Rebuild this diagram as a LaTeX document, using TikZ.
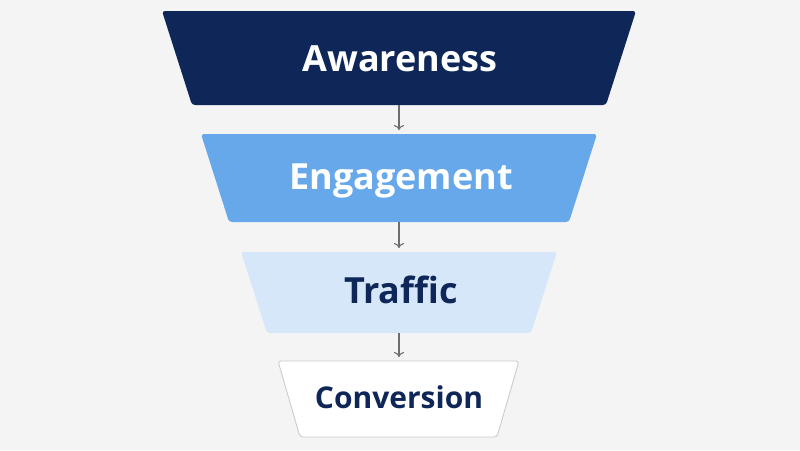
\documentclass[tikz,border=0pt]{standalone}
\usepackage{fontspec}
\setmainfont{Open Sans}
\usetikzlibrary{arrows.meta}
\definecolor{bg}{HTML}{F4F4F4}
\definecolor{navy}{HTML}{0E2758}
\definecolor{midblue}{HTML}{67A8EA}
\definecolor{lightblue}{HTML}{D6E7FA}
\definecolor{edgegray}{HTML}{CCCCCC}
\definecolor{arrowgray}{HTML}{6E6E6E}
\tikzset{
  funnel/.style={rounded corners=3pt},
  lbl/.style={anchor=base, inner sep=0pt, font=\bfseries\fontsize{36}{40}\selectfont},
  lblsmall/.style={anchor=base, inner sep=0pt, font=\bfseries\fontsize{30}{34}\selectfont},
  conn/.style={draw=arrowgray, line width=1.1pt, -{To[length=5pt,width=10pt,line width=1.1pt]}, shorten >=4pt}
}
\begin{document}
\begin{tikzpicture}[x=1pt,y=-1pt]
\fill[bg] (0,0) rectangle (800,450);
\useasboundingbox (0,0) rectangle (800,450);
% Awareness
\fill[navy, funnel] (162,11) -- (636,11) -- (606,105) -- (192,105) -- cycle;
\node[lbl, text=white] (aw) at (400,71) {Awareness};
\coordinate (awb) at (399,105);
% Engagement
\fill[midblue, funnel] (201,134) -- (597,134) -- (569,222) -- (229,222) -- cycle;
\node[lbl, text=white] (en) at (401,189) {Engagement};
\coordinate (ent) at (399,134);
\coordinate (enb) at (399,222);
% Traffic
\fill[lightblue, funnel] (241,252) -- (557,252) -- (531,333) -- (267,333) -- cycle;
\node[lbl, text=navy] (tr) at (401,303) {Traffic};
\coordinate (trt) at (399,252);
\coordinate (trb) at (399,333);
% Conversion
\filldraw[fill=white, draw=edgegray, line width=0.9pt, funnel] (278,361) -- (519,361) -- (497,437) -- (300,437) -- cycle;
\node[lblsmall, text=navy] (co) at (399,408) {Conversion};
\coordinate (cot) at (399,361);
% connectors
\draw[conn] (awb) -- (ent);
\draw[conn] (enb) -- (trt);
\draw[conn] (trb) -- (cot);
\end{tikzpicture}
\end{document}
